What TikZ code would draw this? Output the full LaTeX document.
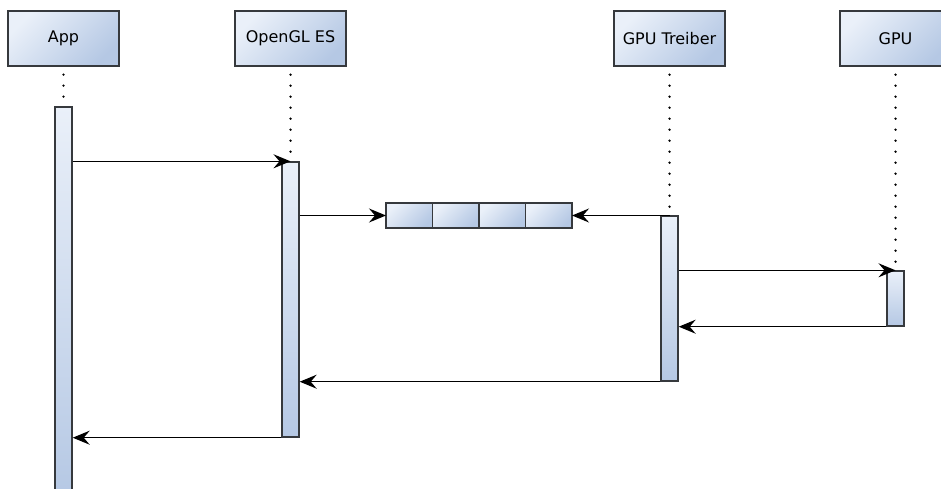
\documentclass[tikz,border=0pt]{standalone}
\usepackage{fontspec}
\setmainfont{DejaVu Sans}
\usetikzlibrary{arrows.meta}
\definecolor{boxlight}{HTML}{EAF0F9}
\definecolor{boxdark}{HTML}{B5C8E4}
\definecolor{boxline}{HTML}{36393D}
\tikzset{
  actor/.style={draw=boxline, line width=1.4pt, minimum width=111pt, minimum height=55pt,
    left color=boxlight, right color=boxdark, shading angle=45,
    font=\fontsize{16}{19}\selectfont},
  bar/.style={draw=boxline, line width=1.4pt, minimum width=17pt, inner sep=0pt,
    top color=boxlight, bottom color=boxdark},
  cell/.style={draw=boxline, line width=1.4pt, minimum width=46.5pt, minimum height=25pt,
    inner sep=0pt, outer sep=0pt, left color=boxlight, right color=boxdark, shading angle=45},
  life/.style={line width=2.6pt, line cap=round, dash pattern=on 0pt off 11pt,
    shorten <=8pt, shorten >=3pt},
  msg/.style={line width=1.4pt, -{Stealth[length=17pt,width=14pt,inset=6pt]}}
}
\begin{document}
\begin{tikzpicture}[x=1pt,y=-1pt]
\clip (0,0) rectangle (941,489);
\fill[white] (0,0) rectangle (941,489);
% lifeline heads
\node[actor] (app) at (63.5,38.5) {App};
\node[actor] (gl) at (290.5,38.5) {OpenGL ES};
\node[actor] (tr) at (669.5,38.5) {GPU Treiber};
\node[actor] (gpu) at (895.5,38.5) {GPU};
% activation bars
\node[bar, minimum height=392pt] (appbar) at (63.5,303) {};
\node[bar, minimum height=275pt] (glbar) at (290.5,299.5) {};
\node[bar, minimum height=165pt] (trbar) at (669.5,298.5) {};
\node[bar, minimum height=55pt] (gpubar) at (895.5,298.5) {};
\foreach \a/\b in {app/appbar, gl/glbar, tr/trbar, gpu/gpubar}
  \draw[life] (\a.south) -- (\b.north);
% queue
\node[cell] (q1) at (409.25,215.5) {};
\node[cell, anchor=west] (q2) at (q1.east) {};
\node[cell, anchor=west] (q3) at (q2.east) {};
\node[cell, anchor=west] (q4) at (q3.east) {};
% messages
\draw[msg] (appbar.east |- glbar.north) -- (glbar.north);
\draw[msg] (glbar.east |- q1.west) -- (q1.west);
\draw[msg] (trbar.north |- q4.east) -- (q4.east);
\draw[msg] (trbar.east |- gpubar.north) -- (gpubar.north);
\draw[msg] (gpubar.south west) -- (gpubar.south west -| trbar.east);
\draw[msg] (trbar.south west) -- (trbar.south west -| glbar.east);
\draw[msg] (glbar.south west) -- (glbar.south west -| appbar.east);
\end{tikzpicture}
\end{document}
